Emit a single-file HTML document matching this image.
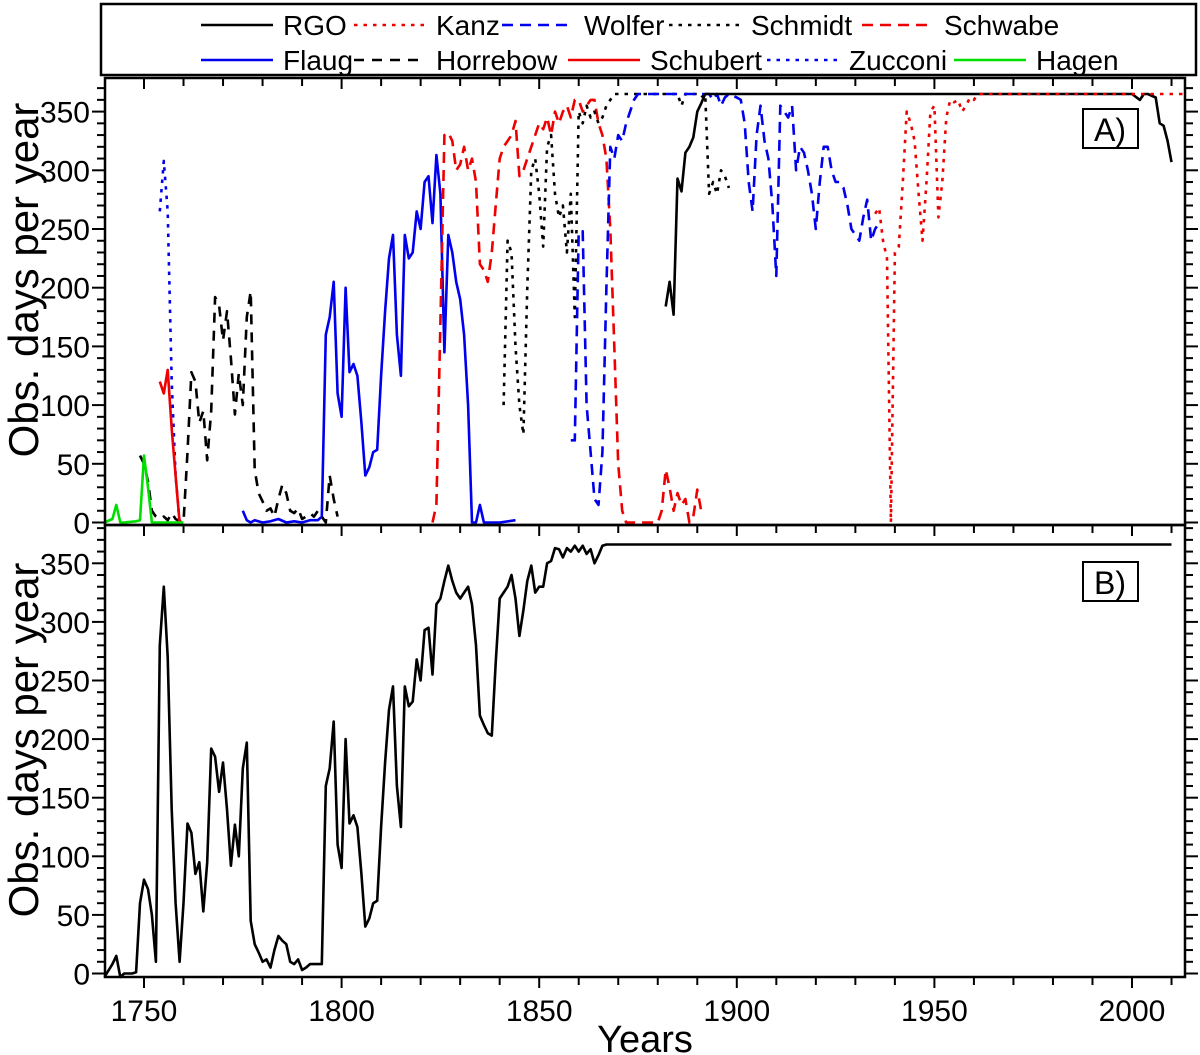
<!DOCTYPE html>
<html><head><meta charset="utf-8"><style>
html,body{margin:0;padding:0;background:#fff;}
svg{display:block;font-family:"Liberation Sans",Arial,sans-serif;}
</style></head><body>
<svg id="chart" width="1200" height="1055" viewBox="0 0 1200 1055">
<g id="legend"></g>
<g id="panelA"></g>
<g id="panelB"></g>
<g id="axes"></g>
</svg>
<script>
// ---- data ----
const rgoYears=[1882,1883,1884,1885,1886,1887,1888,1889,1890,1891,1892,1900,1910,1920,1930,1940,1950,1960,1970,1980,1990,2000,2002,2003,2004,2006,2007,2008,2009,2010];
const rgoVals=[184,205,177,293,282,315,320,328,350,357,365,365,365,365,365,365,365,365,365,365,365,365,360,365,365,362,340,338,325,307];
const kanzYears=[1935,1936,1937,1938,1939,1940,1941,1942,1943,1944,1945,1946,1947,1948,1949,1950,1951,1952,1953,1954,1955,1956,1957,1958,1959,1960,1961,1970,1980,1990,2000,2013];
const kanzVals=[263,268,240,225,0,230,235,290,350,340,325,280,240,290,350,355,260,290,345,360,358,360,350,355,362,360,365,365,365,365,365,365];
const wolferYears=[1858,1859,1860,1861,1862,1863,1864,1865,1866,1867,1868,1869,1870,1871,1872,1873,1874,1875,1880,1885,1890,1893,1894,1895,1896,1897,1898,1900,1901,1902,1903,1904,1905,1906,1907,1908,1909,1910,1911,1912,1913,1914,1915,1916,1917,1918,1919,1920,1921,1922,1923,1924,1925,1926,1927,1928,1929,1930,1931,1932,1933,1934,1935,1936];
const wolferVals=[70,70,248,248,100,60,20,15,60,200,320,310,330,325,340,350,360,365,365,365,365,365,360,365,355,362,365,362,360,340,290,265,330,355,325,310,270,210,355,350,345,355,300,320,315,300,280,250,290,320,320,300,290,290,285,270,250,245,240,260,275,240,250,255];
const schmidtYears=[1841,1842,1843,1844,1845,1846,1847,1848,1849,1850,1851,1852,1853,1854,1855,1856,1857,1858,1859,1860,1861,1862,1863,1864,1865,1866,1867,1868,1869,1870,1880,1885,1886,1887,1890,1891,1892,1893,1894,1895,1896,1897,1898];
const schmidtVals=[100,240,230,150,100,75,200,300,310,280,235,320,330,280,260,270,230,280,175,350,340,355,345,350,340,345,355,360,365,365,365,365,355,365,365,362,365,280,290,280,300,295,285];
const schwabeYears=[1823,1824,1825,1826,1827,1828,1829,1830,1831,1832,1833,1834,1835,1836,1837,1838,1839,1840,1841,1842,1843,1844,1845,1846,1847,1848,1849,1850,1851,1852,1853,1854,1855,1856,1857,1858,1859,1860,1861,1862,1863,1864,1865,1866,1867,1868,1869,1870,1871,1872,1875,1880,1881,1882,1883,1884,1885,1886,1887,1888,1889,1890,1891];
const schwabeVals=[0,15,170,330,332,325,300,305,320,300,310,290,220,215,205,230,270,310,320,325,330,342,295,300,310,320,330,340,335,345,330,350,340,350,355,345,360,360,350,355,360,360,340,330,310,250,150,50,10,0,0,0,10,45,30,10,25,15,20,0,5,28,10];
const flaugYears=[1775,1776,1777,1778,1780,1782,1784,1786,1788,1790,1792,1794,1795,1796,1797,1798,1799,1800,1801,1802,1803,1804,1805,1806,1807,1808,1809,1810,1811,1812,1813,1814,1815,1816,1817,1818,1819,1820,1821,1822,1823,1824,1825,1826,1827,1828,1829,1830,1831,1832,1833,1834,1835,1836,1840,1844];
const flaugVals=[10,2,0,2,0,1,3,0,1,0,2,2,5,160,175,205,110,90,200,128,135,125,85,40,47,60,62,125,180,225,245,160,125,245,225,230,265,250,290,295,255,313,280,145,245,230,205,190,160,100,0,0,15,0,0,2];
const horrebowYears=[1749,1750,1751,1752,1753,1754,1755,1756,1757,1758,1759,1760,1761,1762,1763,1764,1765,1766,1767,1768,1769,1770,1771,1772,1773,1774,1775,1776,1777,1778,1779,1780,1781,1782,1783,1784,1785,1786,1787,1788,1789,1790,1791,1792,1793,1794,1795,1796,1797,1798,1799];
const horrebowVals=[57,50,35,10,5,3,5,2,8,3,1,0,60,128,120,85,95,53,95,192,185,155,180,140,92,127,100,175,197,45,25,18,10,12,5,20,32,25,10,8,12,3,5,8,5,10,5,0,40,20,5];
const schubertYears=[1754,1755,1756,1757,1758,1759];
const schubertVals=[120,110,130,80,40,0];
const zucconiYears=[1754,1755,1756,1757,1758,1759];
const zucconiVals=[265,308,265,120,40,0];
const hagenYears=[1740,1742,1743,1744,1745,1748,1749,1750,1751,1752,1756,1760];
const hagenVals=[0,3,15,0,0,1,2,57,30,0,0,0];
// combined series: early points, then annual 1745..1867, then flat tail
const totalHeadYears=[1740,1742,1743,1744];
const totalHeadVals=[-3,8,15,-3];
const totalAnnualStart=1745;
const totalAnnualVals=[
0,0,0,1,60,80,72,50,10,280,
330,270,140,60,10,60,128,120,85,95,
53,95,192,185,155,180,140,92,127,100,
175,197,45,25,18,10,12,5,20,32,
28,25,10,8,12,3,5,8,8,8,
8,160,175,215,110,90,200,128,135,125,
85,40,47,60,62,125,180,225,245,160,
125,245,228,232,268,250,293,295,255,315,
320,335,348,335,325,320,325,330,315,280,
220,212,205,203,265,320,325,330,340,320,
288,310,335,348,325,330,330,350,352,363,
362,355,363,360,365,360,365,358,362,350,
357,365,366];
const totalTailYears=[1870,1900,1950,2000,2010];
const totalTailVals=[366,366,366,366,366];
const xTickYears=[1750,1800,1850,1900,1950,2000];
const yTickVals=[0,50,100,150,200,250,300,350];

// ---- geometry ----
const NS="http://www.w3.org/2000/svg";
const L=105,R=1185;
const xs=y=>144+(y-1750)*3.952;
const panels={A:{top:78,bot:525,y0:522.5,k:1.174,tc:280},B:{top:525,bot:977,y0:973.5,k:1.172,tc:740}};
const ys=(p,v)=>panels[p].y0-v*panels[p].k;
function mk(tag,attrs,parent){const e=document.createElementNS(NS,tag);for(const a in attrs)e.setAttribute(a,attrs[a]);parent.appendChild(e);return e;}

function series(p,years,vals,color,dash,name){
  const g=document.getElementById(p==='A'?'panelA':'panelB');
  const n=Math.min(years.length,vals.length);
  let d='';
  for(let i=0;i<n;i++)d+=(i?'L':'M')+xs(years[i]).toFixed(1)+','+ys(p,vals[i]).toFixed(1);
  const el=mk('path',{d:d,fill:'none',stroke:color,'stroke-width':2.6,'stroke-linejoin':'round'},g);
  if(dash)el.setAttribute('stroke-dasharray',dash);
  
  
}
const DASH='11,7',DOT='3.5,6';
series('A',flaugYears,flaugVals,'#0000ee','', 'flaug-line');
series('A',horrebowYears,horrebowVals,'#000','10,8','horrebow-line');
series('A',schwabeYears,schwabeVals,'#ee0000',DASH,'schwabe-line');
series('A',schmidtYears,schmidtVals,'#000',DOT,'schmidt-line');
series('A',wolferYears,wolferVals,'#0000ee',DASH,'wolfer-line');
series('A',rgoYears,rgoVals,'#000','','rgo-line');
series('A',kanzYears,kanzVals,'#ee0000',DOT,'kanz-line');
series('A',zucconiYears,zucconiVals,'#0000ee',DOT,'zucconi-line');
series('A',schubertYears,schubertVals,'#ee0000','','schubert-line');
series('A',hagenYears,hagenVals,'#00e000','','hagen-line');
const totalYears=totalHeadYears.concat(totalAnnualVals.map((v,i)=>totalAnnualStart+i),totalTailYears);
const totalVals=totalHeadVals.concat(totalAnnualVals,totalTailVals);
series('B',totalYears,totalVals,'#000','','combined-line');

// ---- axes ----
const ax=document.getElementById('axes');
['A','B'].forEach(p=>{
  const P=panels[p];
  const fr=mk('rect',{x:L,y:P.top,width:R-L,height:P.bot-P.top,fill:'none',stroke:'#000','stroke-width':2.5},ax);
  
  
  for(let v=0;v<=380;v+=10){
    const y=ys(p,v); if(y<P.top+2)break;
    const len=v%50===0?13:8;
    mk('line',{x1:L-len,x2:L,y1:y,y2:y,stroke:'#000','stroke-width':2},ax);
    mk('line',{x1:R,x2:R+len,y1:y,y2:y,stroke:'#000','stroke-width':2},ax);
  }
  yTickVals.forEach(v=>{
    const t=mk('text',{x:90,y:ys(p,v)+11,'text-anchor':'end','font-size':30,fill:'#000'},ax);
    t.textContent=v;
    
    
  });
  for(let yr=1750;yr<=2010;yr+=10){
    const x=xs(yr);const len=yr%50===0?11:8;
    mk('line',{x1:x,x2:x,y1:P.top,y2:P.top+len,stroke:'#000','stroke-width':2},ax);
  }
  const yt=mk('text',{x:0,y:0,transform:'translate(38,'+P.tc+') rotate(-90)','text-anchor':'middle','font-size':42,fill:'#000'},ax);
  yt.textContent='Obs. days per year';
  
  
  const by=p==='A'?109:562;
  const bx=mk('rect',{x:1083,y:by,width:55,height:39,fill:'#fff',stroke:'#000','stroke-width':2},ax);
  
  
  const bt=mk('text',{x:1110,y:by+32,'text-anchor':'middle','font-size':32,fill:'#000'},ax);
  bt.textContent=p+')';
  
  
});
for(let yr=1750;yr<=2010;yr+=10){
  const x=xs(yr);const len=yr%50===0?11:8;
  mk('line',{x1:x,x2:x,y1:977,y2:977+len,stroke:'#000','stroke-width':2},ax);
}
xTickYears.forEach(yr=>{
  const t=mk('text',{x:xs(yr),y:1021,'text-anchor':'middle','font-size':30,fill:'#000'},ax);
  t.textContent=yr;
  
  
});
const xt=mk('text',{x:645,y:1052,'text-anchor':'middle','font-size':38,fill:'#000'},ax);
xt.textContent='Years';



// ---- legend ----
const lg=document.getElementById('legend');
mk('rect',{x:101,y:4,width:1095,height:71,fill:'#fff',stroke:'#000','stroke-width':2.5},lg);
const legendNames=['RGO','Kanz','Wolfer','Schmidt','Schwabe','Flaug','Horrebow','Schubert','Zucconi','Hagen'];
const legendColors=['#000','#ee0000','#0000ee','#000','#ee0000','#0000ee','#000','#ee0000','#0000ee','#00e000'];
const legendDash=['','3.5,6',DASH,'3.5,6',DASH,'','10,8','','3.5,6',''];
const legendX=[201,354,502,669,862,201,354,568,767,954];
legendNames.forEach((n,i)=>{
  const row=i<5?0:1;const y=row?60:25;const x=legendX[i];
  const ln=mk('line',{x1:x,x2:x+72,y1:y,y2:y,stroke:legendColors[i],'stroke-width':2.6},lg);
  if(legendDash[i])ln.setAttribute('stroke-dasharray',legendDash[i]);
  const t=mk('text',{x:x+82,y:y+10,'font-size':28,fill:'#000'},lg);
  t.textContent=n;
  
  
});
</script>
</body></html>
